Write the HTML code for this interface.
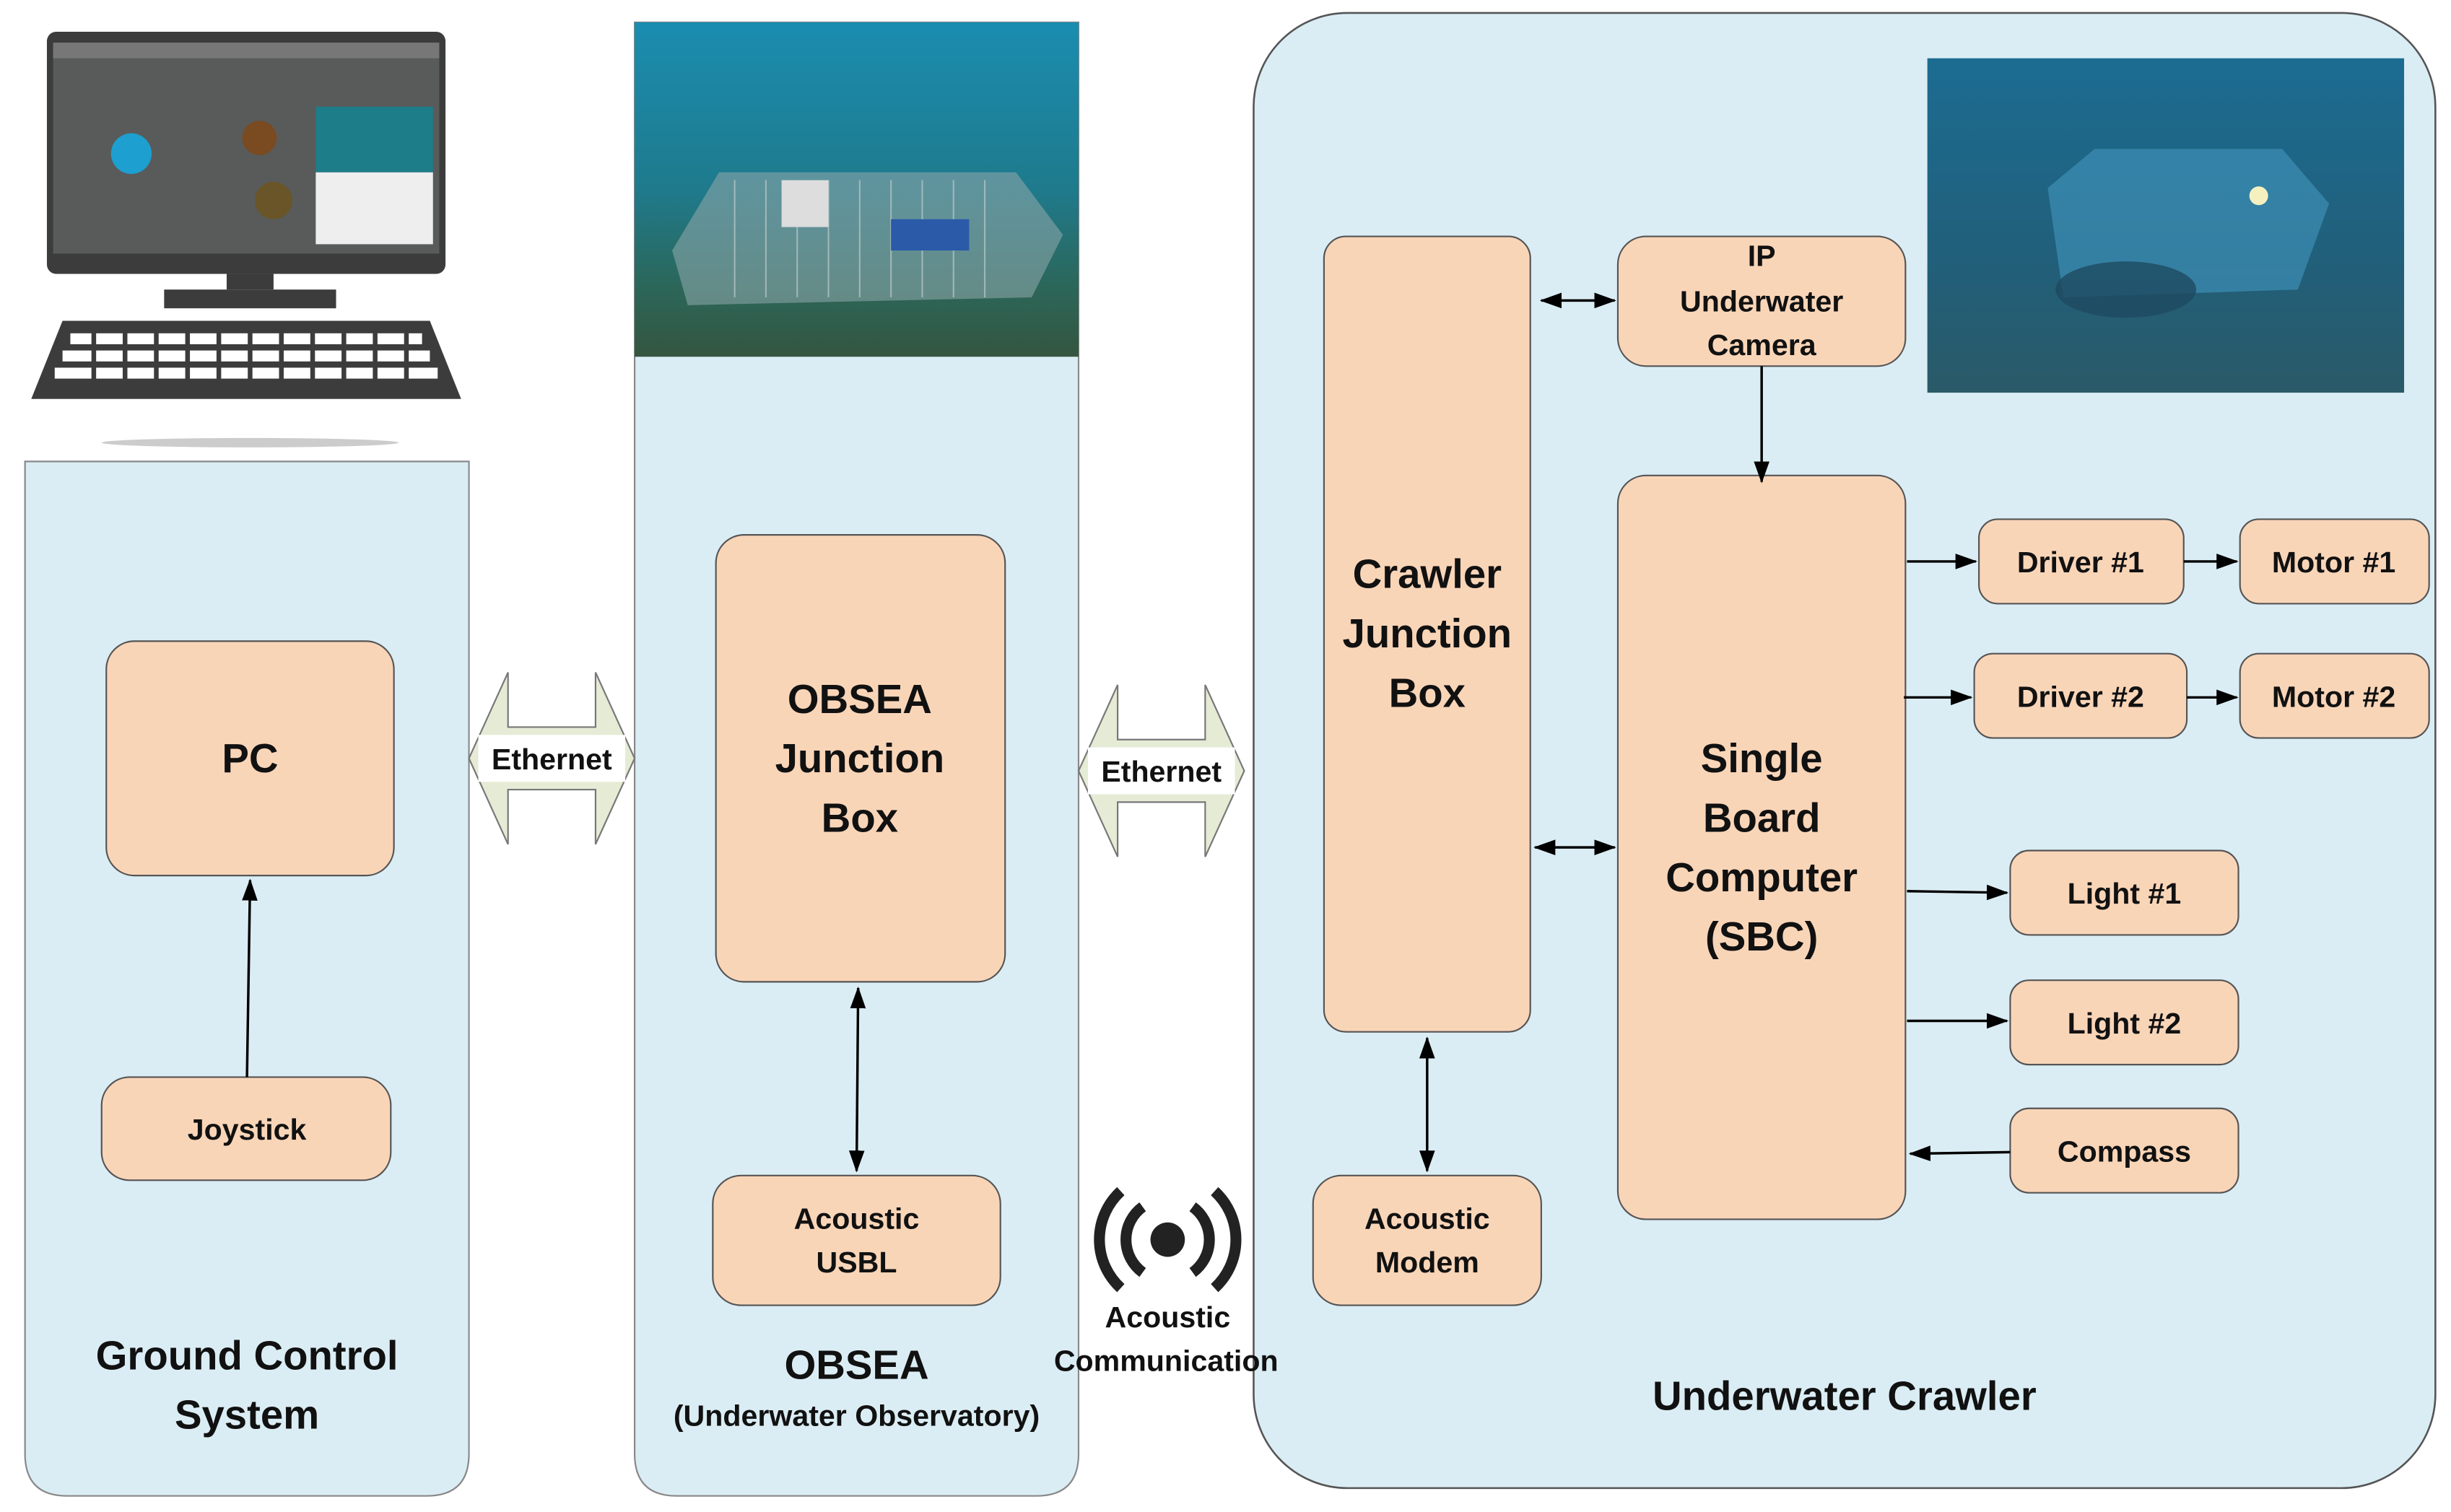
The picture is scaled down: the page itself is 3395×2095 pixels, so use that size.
<!DOCTYPE html>
<html><head><meta charset="utf-8"><style>html,body{margin:0;padding:0;background:#fff}svg{display:block}text{font-family:"Liberation Sans",sans-serif;font-weight:bold;fill:#111}</style></head><body>
<svg width="3395" height="2095" viewBox="0 0 1568 967" xmlns="http://www.w3.org/2000/svg">
<defs>
<marker id="a" markerWidth="14" markerHeight="10" refX="13" refY="5" orient="auto" markerUnits="userSpaceOnUse"><path d="M0,0L14,5L0,10z" fill="#000"/></marker>
<marker id="s" markerWidth="14" markerHeight="10" refX="1" refY="5" orient="auto" markerUnits="userSpaceOnUse"><path d="M14,0L0,5L14,10z" fill="#000"/></marker>
<linearGradient id="w1" x1="0" y1="0" x2="0" y2="1"><stop offset="0" stop-color="#1a8db0"/><stop offset="0.5" stop-color="#1f7a8c"/><stop offset="0.8" stop-color="#2c6658"/><stop offset="1" stop-color="#34553f"/></linearGradient>
<linearGradient id="w2" x1="0" y1="0" x2="0" y2="1"><stop offset="0" stop-color="#1c6c92"/><stop offset="0.6" stop-color="#215f7a"/><stop offset="1" stop-color="#2a5a68"/></linearGradient>
</defs>
<path d="M16,295H300V930Q300,957 273,957H43Q16,957 16,930Z" fill="#dbedf4" stroke="#888" stroke-width="1"/>
<path d="M406,14H690V930Q690,957 663,957H433Q406,957 406,930Z" fill="#dbedf4" stroke="#888" stroke-width="1"/>
<rect x="802" y="8" width="756" height="944" rx="60" fill="#dbedf4" stroke="#555" stroke-width="1.2"/>
<rect x="406" y="14" width="284" height="214" fill="url(#w1)"/>
<path d="M430,160L460,110L650,110L680,150L660,190L440,195Z" fill="#8aa5a8" opacity="0.6"/>
<g stroke="#b8c8c8" stroke-width="1" opacity="0.7"><path d="M470,115V190M490,115V190M510,115V190M530,115V190M550,115V190M570,115V190M590,115V190M610,115V190M630,115V190"/></g>
<rect x="500" y="115" width="30" height="30" fill="#ddd"/>
<rect x="570" y="140" width="50" height="20" fill="#2a5aa8"/>
<rect x="1233" y="37" width="305" height="214" fill="url(#w2)"/>
<path d="M1310,120L1340,95L1460,95L1490,130L1470,185L1320,190Z" fill="#3d8fb5" opacity="0.7"/>
<ellipse cx="1360" cy="185" rx="45" ry="18" fill="#1e4a60" opacity="0.8"/>
<circle cx="1445" cy="125" r="6" fill="#f5f0c0"/>
<rect x="30" y="20" width="255" height="155" rx="6" fill="#3c3c3c"/>
<rect x="34" y="27" width="247" height="135" fill="#585b5a"/>
<rect x="34" y="27" width="247" height="10" fill="#777"/>
<circle cx="84" cy="98" r="13" fill="#1d9fd0"/><circle cx="166" cy="88" r="11" fill="#7a4a20"/><circle cx="175" cy="128" r="12" fill="#6a5528"/>
<rect x="202" y="68" width="75" height="42" fill="#1d7d89"/><rect x="202" y="110" width="75" height="46" fill="#eee"/>
<rect x="145" y="175" width="30" height="10" fill="#3c3c3c"/><rect x="105" y="185" width="110" height="12" fill="#3c3c3c"/>
<path d="M40,205H275L295,255H20Z" fill="#3c3c3c"/>
<g fill="#fff"><rect x="45" y="213" width="225" height="7"/><rect x="40" y="224" width="235" height="7"/><rect x="35" y="235" width="245" height="7"/></g>
<g stroke="#3c3c3c" stroke-width="3"><path d="M60,210V245M80,210V245M100,210V245M120,210V245M140,210V245M160,210V245M180,210V245M200,210V245M220,210V245M240,210V245M260,210V245"/></g>
<ellipse cx="160" cy="283" rx="95" ry="3" fill="#ccc"/>
<g fill="#f9d5b8" stroke="#555" stroke-width="1">
<rect x="68" y="410" width="184" height="150" rx="18"/>
<rect x="65" y="689" width="185" height="66" rx="18"/>
<rect x="458" y="342" width="185" height="286" rx="18"/>
<rect x="456" y="752" width="184" height="83" rx="18"/>
<rect x="847" y="151" width="132" height="509" rx="14"/>
<rect x="1035" y="151" width="184" height="83" rx="18"/>
<rect x="1035" y="304" width="184" height="476" rx="18"/>
<rect x="1266" y="332" width="131" height="54" rx="12"/>
<rect x="1433" y="332" width="121" height="54" rx="12"/>
<rect x="1263" y="418" width="136" height="54" rx="12"/>
<rect x="1433" y="418" width="121" height="54" rx="12"/>
<rect x="1286" y="544" width="146" height="54" rx="12"/>
<rect x="1286" y="627" width="146" height="54" rx="12"/>
<rect x="1286" y="709" width="146" height="54" rx="12"/>
<rect x="840" y="752" width="146" height="83" rx="18"/>
</g>
<path d="M300,485L325,430V465H381V430L406,485L381,540V505H325V540Z" fill="#e6ebd6" stroke="#777"/>
<rect x="306" y="470" width="94" height="30" fill="#fff"/>
<path d="M690,493L715,438V473H771V438L796,493L771,548V513H715V548Z" fill="#e6ebd6" stroke="#777"/>
<rect x="696" y="478" width="94" height="30" fill="#fff"/>
<g stroke="#000" stroke-width="1.6" fill="none">
<path d="M158,689L160,563" marker-end="url(#a)"/>
<path d="M549,632L548,749" marker-start="url(#s)" marker-end="url(#a)"/>
<path d="M913,664L913,749" marker-start="url(#s)" marker-end="url(#a)"/>
<path d="M986,192L1033,192" marker-start="url(#s)" marker-end="url(#a)"/>
<path d="M982,542L1033,542" marker-start="url(#s)" marker-end="url(#a)"/>
<path d="M1127,234L1127,308" marker-end="url(#a)"/>
<path d="M1220,359L1264,359" marker-end="url(#a)"/>
<path d="M1397,359L1431,359" marker-end="url(#a)"/>
<path d="M1218,446L1261,446" marker-end="url(#a)"/>
<path d="M1399,446L1431,446" marker-end="url(#a)"/>
<path d="M1220,570L1284,571" marker-end="url(#a)"/>
<path d="M1220,653L1284,653" marker-end="url(#a)"/>
<path d="M1286,737L1222,738" marker-end="url(#a)"/>
</g>
<circle cx="747" cy="793" r="11" fill="#222"/>
<g fill="none" stroke="#222" stroke-width="7">
<path d="M731,772A26,26 0 0 0 731,814M763,772A26,26 0 0 1 763,814"/>
<path d="M717,762A42,42 0 0 0 717,824M777,762A42,42 0 0 1 777,824"/>
</g>
<g text-anchor="middle">
<text x="160" y="494" font-size="26">PC</text>
<text x="158" y="729" font-size="19">Joystick</text>
<text x="550" y="456" font-size="26">OBSEA</text><text x="550" y="494" font-size="26">Junction</text><text x="550" y="532" font-size="26">Box</text>
<text x="548" y="786" font-size="19">Acoustic</text><text x="548" y="814" font-size="19">USBL</text>
<text x="353" y="492" font-size="19">Ethernet</text>
<text x="743" y="500" font-size="19">Ethernet</text>
<text x="158" y="876" font-size="26">Ground Control</text><text x="158" y="914" font-size="26">System</text>
<text x="548" y="882" font-size="26">OBSEA</text><text x="548" y="912" font-size="19" font-weight="normal">(Underwater Observatory)</text>
<text x="747" y="849" font-size="19">Acoustic</text><text x="746" y="877" font-size="19" font-weight="normal">Communication</text>
<text x="913" y="376" font-size="26">Crawler</text><text x="913" y="414" font-size="26">Junction</text><text x="913" y="452" font-size="26">Box</text>
<text x="1127" y="170" font-size="19">IP</text><text x="1127" y="199" font-size="19">Underwater</text><text x="1127" y="227" font-size="19">Camera</text>
<text x="1127" y="494" font-size="26">Single</text><text x="1127" y="532" font-size="26">Board</text><text x="1127" y="570" font-size="26">Computer</text><text x="1127" y="608" font-size="26">(SBC)</text>
<text x="1331" y="366" font-size="19">Driver #1</text><text x="1493" y="366" font-size="19">Motor #1</text>
<text x="1331" y="452" font-size="19">Driver #2</text><text x="1493" y="452" font-size="19">Motor #2</text>
<text x="1359" y="578" font-size="19">Light #1</text><text x="1359" y="661" font-size="19">Light #2</text><text x="1359" y="743" font-size="19">Compass</text>
<text x="913" y="786" font-size="19">Acoustic</text><text x="913" y="814" font-size="19">Modem</text>
<text x="1180" y="902" font-size="26">Underwater Crawler</text>
</g>
</svg>
</body></html>
